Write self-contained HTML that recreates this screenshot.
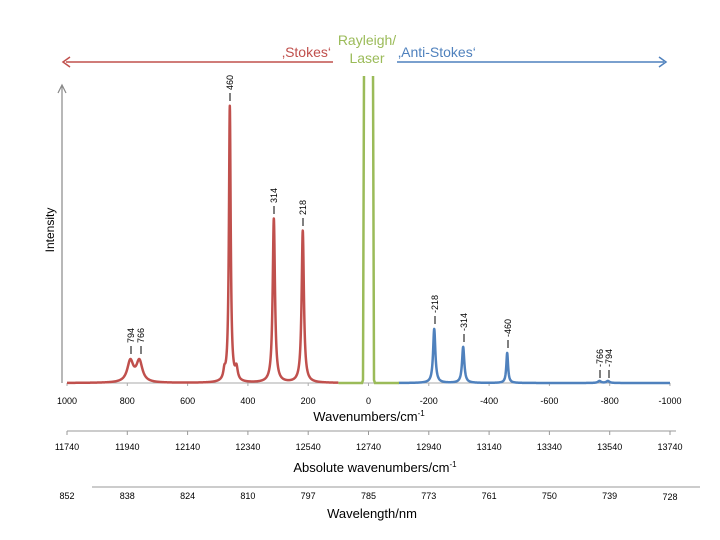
<!DOCTYPE html>
<html><head><meta charset="utf-8"><style>
body{margin:0;background:#fff;}
svg{display:block;font-family:"Liberation Sans",sans-serif;}
</style></head><body>
<svg id="s" width="720" height="540" viewBox="0 0 720 540" xmlns="http://www.w3.org/2000/svg">
<defs>
<clipPath id="c"><rect x="0" y="76" width="720" height="320"/></clipPath>
</defs>
<line x1="66" y1="62" x2="333" y2="62" stroke="#c0504d" stroke-width="1.5"/>
<polyline points="70,57 63,62 70,67" fill="none" stroke="#c0504d" stroke-width="1.5"/>
<line x1="397" y1="62" x2="664" y2="62" stroke="#4f81bd" stroke-width="1.5"/>
<polyline points="659,57 666,62 659,67" fill="none" stroke="#4f81bd" stroke-width="1.5"/>
<text x="331" y="57" font-size="14" fill="#c0504d" text-anchor="end">‚Stokes‘</text>
<text x="367" y="45" font-size="14" fill="#9bbb59" text-anchor="middle">Rayleigh/</text>
<text x="367" y="63" font-size="14" fill="#9bbb59" text-anchor="middle">Laser</text>
<text x="398" y="57" font-size="14" fill="#4f81bd">‚Anti-Stokes‘</text>
<line x1="62" y1="383" x2="62" y2="86" stroke="#888" stroke-width="1.2"/>
<polyline points="58,93 62,85 66,93" fill="none" stroke="#888" stroke-width="1.2"/>
<text transform="translate(54,230) rotate(-90)" font-size="12" text-anchor="middle">Intensity</text>
<line x1="67" y1="383" x2="670" y2="383" stroke="#aaa" stroke-width="1"/>
<g id="ax1" font-size="9" text-anchor="middle"></g>
<text x="369" y="421" font-size="13" text-anchor="middle">Wavenumbers/cm<tspan dy="-5" font-size="8">-1</tspan></text>
<line x1="67" y1="431" x2="676" y2="431" stroke="#999" stroke-width="1"/>
<g id="ax2" font-size="9" text-anchor="middle"></g>
<text x="375" y="472" font-size="13" text-anchor="middle">Absolute wavenumbers/cm<tspan dy="-5" font-size="8">-1</tspan></text>
<line x1="92" y1="487" x2="700" y2="487" stroke="#999" stroke-width="1"/>
<g id="ax3" font-size="9" text-anchor="middle"></g>
<text x="372" y="518" font-size="13" text-anchor="middle">Wavelength/nm</text>
<g id="curves" clip-path="url(#c)"></g>
<g id="labels" font-size="9"></g>
</svg>
<script>
var NS="http://www.w3.org/2000/svg";
function px(w){return 368.5-0.3015*w;}
function el(p,tag,a,t){var e=document.createElementNS(NS,tag);for(var k in a)e.setAttribute(k,a[k]);if(t!==undefined)e.textContent=t;document.getElementById(p).appendChild(e);return e;}
var a1=["1000","800","600","400","200","0","-200","-400","-600","-800","-1000"];
var a2=["11740","11940","12140","12340","12540","12740","12940","13140","13340","13540","13740"];
var a3=["852","838","824","810","797","785","773","761","750","739","728"];
for(var i=0;i<11;i++){
 var x=67+60.3*i;
 el("ax1","line",{x1:x,y1:383,x2:x,y2:386,stroke:"#aaa"});
 el("ax1","text",{x:x,y:404},a1[i]);
 el("ax2","line",{x1:x,y1:431,x2:x,y2:435,stroke:"#999"});
 el("ax2","text",{x:x,y:450},a2[i]);
 el("ax3","text",{x:x,y:499+(i==10?1:0)},a3[i]);
}
var B=383;
var red=[[790,21,12],[760,21,12],[460,276,3.5],[438,12,5],[478,8,4],[314,164,4.5],[218,152,4.5]];
var blue=[[-218,54,4.5],[-314,36,4.5],[-460,30,3.5],[-766,2,6],[-794,2,6]];
function path(pk,w0,w1,col){
 var d="";
 for(var w=w0;w>=w1;w-=0.5){
  var y=0;pk.forEach(function(p){var g=p[2];y+=p[1]*g*g/((w-p[0])*(w-p[0])+g*g);});
  d+=(d?"L":"M")+px(w).toFixed(2)+","+(B-y).toFixed(2);
 }
 el("curves","path",{d:d,fill:"none",stroke:col,"stroke-width":2.5,"stroke-linejoin":"round"});
}
path(red,1000,100,"#c0504d");
path(blue,-100,-1000,"#4f81bd");
el("curves","path",{d:"M338.5,383 L362,383 L363,380 L364,70 M373,70 L374,380 L375,383 L399,383",fill:"none",stroke:"#9bbb59","stroke-width":2.5});
var L=[[230,103,"460"],[274,216,"314"],[303,228,"218"],[131,356,"794"],[141,356,"766"],[435,326,"-218"],[464,344,"-314"],[508,350,"-460"],[600,380,"-766"],[609,380,"-794"]];
L.forEach(function(l){
 el("labels","line",{x1:l[0],y1:l[1]-2,x2:l[0],y2:l[1]-10,stroke:"#000","stroke-width":1});
 el("labels","text",{transform:"translate("+(l[0]+3)+","+(l[1]-13)+") rotate(-90)"},l[2]);
});
</script>
</body></html>
